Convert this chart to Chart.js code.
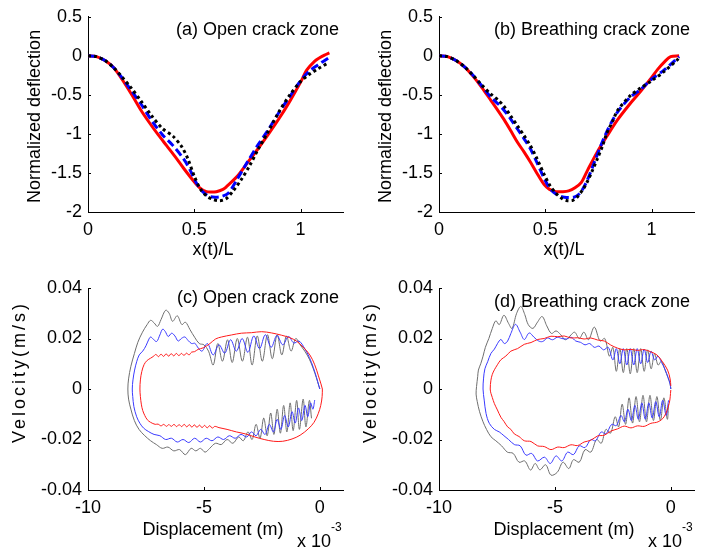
<!DOCTYPE html>
<html>
<head>
<meta charset="utf-8">
<script src="https://cdn.jsdelivr.net/npm/chart.js@4/dist/chart.umd.min.js"></script>
<style>
  html, body { margin: 0; padding: 0; background: #fff; }
  #fig { position: relative; width: 702px; height: 554px; overflow: hidden; background: #fff; }
  #fig canvas { position: absolute; }
</style>
</head>
<body>
<div id="fig">
  <canvas id="pa" width="351" height="270" style="left:0;top:0"></canvas>
  <canvas id="pb" width="351" height="270" style="left:351px;top:0"></canvas>
  <canvas id="pc" width="351" height="284" style="left:0;top:270px"></canvas>
  <canvas id="pd" width="351" height="284" style="left:351px;top:270px"></canvas>
</div>
<script>
// ---------- deflection profiles, x(t)/L vs normalized deflection ----------
const aRedX = [0, 0.04, 0.08, 0.12, 0.16, 0.213, 0.25, 0.29, 0.33, 0.37, 0.41, 0.45, 0.49, 0.526, 0.557, 0.58, 0.604, 0.635, 0.65, 0.70, 0.75, 0.80, 0.85, 0.90, 0.95, 1.00, 1.03, 1.066, 1.09, 1.113, 1.136];
const aRedY = [0, -0.01, -0.06, -0.15, -0.30, -0.53, -0.70, -0.86, -1.01, -1.15, -1.29, -1.44, -1.58, -1.69, -1.74, -1.745, -1.74, -1.71, -1.68, -1.55, -1.37, -1.19, -1.00, -0.80, -0.58, -0.34, -0.18, -0.07, -0.025, 0.01, 0.037];
const aBlueX = [0, 0.04, 0.08, 0.12, 0.16, 0.20, 0.25, 0.30, 0.35, 0.40, 0.45, 0.48, 0.51, 0.54, 0.57, 0.60, 0.63, 0.66, 0.70, 0.75, 0.80, 0.85, 0.90, 0.95, 1.00, 1.04, 1.08, 1.13];
const aBlueY = [0, -0.01, -0.06, -0.15, -0.28, -0.43, -0.62, -0.83, -1.01, -1.15, -1.32, -1.46, -1.63, -1.74, -1.80, -1.81, -1.80, -1.76, -1.59, -1.36, -1.14, -0.94, -0.72, -0.52, -0.32, -0.20, -0.12, -0.03];
const aBlackX = [0, 0.04, 0.08, 0.12, 0.16, 0.20, 0.25, 0.30, 0.35, 0.40, 0.44, 0.47, 0.50, 0.53, 0.56, 0.59, 0.62, 0.65, 0.68, 0.72, 0.76, 0.80, 0.85, 0.90, 0.95, 1.00, 1.04, 1.08, 1.13];
const aBlackY = [0, -0.01, -0.06, -0.15, -0.27, -0.40, -0.58, -0.77, -0.93, -1.03, -1.16, -1.32, -1.54, -1.71, -1.80, -1.84, -1.855, -1.83, -1.74, -1.59, -1.41, -1.20, -0.96, -0.71, -0.50, -0.33, -0.24, -0.17, -0.09];

const bRedX = [0, 0.04, 0.08, 0.12, 0.16, 0.20, 0.244, 0.28, 0.307, 0.34, 0.37, 0.40, 0.43, 0.46, 0.495, 0.52, 0.55, 0.58, 0.61, 0.64, 0.67, 0.70, 0.745, 0.79, 0.84, 0.90, 0.95, 1.00, 1.03, 1.06, 1.09, 1.13];
const bRedY = [0, -0.01, -0.06, -0.14, -0.26, -0.40, -0.57, -0.71, -0.82, -0.97, -1.11, -1.23, -1.36, -1.50, -1.65, -1.71, -1.74, -1.74, -1.73, -1.69, -1.62, -1.46, -1.23, -1.03, -0.82, -0.61, -0.45, -0.28, -0.17, -0.08, -0.01, 0.0];
const bBlueX = [0, 0.04, 0.08, 0.12, 0.16, 0.20, 0.244, 0.28, 0.307, 0.34, 0.37, 0.40, 0.43, 0.46, 0.495, 0.52, 0.55, 0.59, 0.635, 0.66, 0.68, 0.70, 0.73, 0.76, 0.78, 0.81, 0.84, 0.90, 0.95, 1.00, 1.06, 1.13];
const bBlueY = [0, -0.01, -0.06, -0.14, -0.25, -0.38, -0.53, -0.62, -0.70, -0.82, -0.94, -1.06, -1.19, -1.36, -1.57, -1.69, -1.77, -1.81, -1.81, -1.77, -1.69, -1.58, -1.37, -1.16, -1.03, -0.86, -0.72, -0.53, -0.43, -0.30, -0.18, -0.01];
const bBlackX = [0, 0.04, 0.08, 0.12, 0.16, 0.20, 0.244, 0.28, 0.307, 0.34, 0.37, 0.40, 0.43, 0.46, 0.495, 0.52, 0.55, 0.58, 0.604, 0.63, 0.65, 0.68, 0.70, 0.72, 0.745, 0.77, 0.79, 0.82, 0.84, 0.90, 0.95, 1.00, 1.06, 1.13];
const bBlackY = [0, -0.01, -0.06, -0.14, -0.25, -0.37, -0.49, -0.57, -0.65, -0.78, -0.90, -1.02, -1.15, -1.31, -1.52, -1.65, -1.76, -1.83, -1.855, -1.85, -1.81, -1.70, -1.60, -1.48, -1.32, -1.15, -0.99, -0.82, -0.70, -0.51, -0.41, -0.32, -0.20, -0.03];

// ---------- phase trajectories, displacement (x 1e-3 m) vs velocity (m/s) ----------
const cRedX = [0.11, 0.10, 0.04, -0.07, -0.25, -0.50, -0.85, -1.20, -1.60, -2.00, -2.40, -2.80, -3.20, -3.60, -4.00, -4.35, -4.53, -4.64, -4.75, -4.86, -4.97, -5.08, -5.19, -5.30, -5.41, -5.52, -5.63, -5.74, -5.85, -5.96, -6.07, -6.18, -6.29, -6.40, -6.51, -6.62, -6.73, -6.85, -6.98, -7.10, -7.30, -7.44, -7.55, -7.64, -7.70, -7.74, -7.76, -7.74, -7.68, -7.58, -7.45, -7.30, -7.18, -7.07, -6.96, -6.85, -6.74, -6.63, -6.52, -6.41, -6.30, -6.19, -6.08, -5.97, -5.86, -5.75, -5.64, -5.53, -5.40, -5.25, -5.03, -4.74, -4.50, -4.24, -3.81, -3.38, -2.95, -2.51, -2.08, -1.65, -1.29, -1.01, -0.72, -0.43, -0.22, -0.06, 0.05, 0.11];
const cRedY = [0.0, -0.0030, -0.0065, -0.0098, -0.0132, -0.0158, -0.0183, -0.0198, -0.0207, -0.0207, -0.0200, -0.0190, -0.0178, -0.0170, -0.0160, -0.0153, -0.0148, -0.0155, -0.0145, -0.0154, -0.0144, -0.0153, -0.0143, -0.0152, -0.0142, -0.0151, -0.0141, -0.0150, -0.0140, -0.0149, -0.0141, -0.0149, -0.0140, -0.0148, -0.0141, -0.0148, -0.0140, -0.0146, -0.0139, -0.0140, -0.0132, -0.0122, -0.0105, -0.0085, -0.0060, -0.0030, 0.0, 0.0036, 0.0069, 0.0097, 0.0113, 0.0122, 0.0129, 0.0137, 0.0128, 0.0138, 0.0129, 0.0139, 0.0130, 0.0140, 0.0131, 0.0141, 0.0132, 0.0141, 0.0133, 0.0142, 0.0135, 0.0146, 0.0148, 0.0157, 0.0163, 0.0180, 0.0198, 0.0206, 0.0214, 0.0221, 0.0223, 0.0227, 0.0222, 0.0213, 0.0203, 0.0190, 0.0166, 0.0135, 0.0096, 0.0052, 0.0020, 0.0];
const cBlueX = [-0.22, -0.30, -0.40, -0.52, -0.64, -0.78, -0.92, -1.06, -1.20, -1.36, -1.52, -1.68, -1.84, -2.00, -2.18, -2.36, -2.55, -2.75, -2.95, -3.15, -3.40, -3.65, -3.90, -4.15, -4.40, -4.65, -4.90, -5.15, -5.40, -5.65, -5.90, -6.15, -6.40, -6.65, -6.90, -7.15, -7.40, -7.60, -7.76, -7.90, -8.02, -8.07, -8.09, -8.06, -7.99, -7.90, -7.79, -7.64, -7.50, -7.39, -7.30, -7.18, -7.04, -6.90, -6.78, -6.67, -6.54, -6.39, -6.25, -6.11, -5.96, -5.82, -5.68, -5.53, -5.39, -5.24, -5.08, -4.85, -4.60, -4.35, -4.10, -3.85, -3.60, -3.35, -3.10, -2.85, -2.60, -2.35, -2.10, -1.85, -1.60, -1.35, -1.12, -0.90, -0.65, -0.45, -0.28, -0.14, -0.04, 0.0];
const cBlueY = [-0.0044, -0.0080, -0.0055, -0.0110, -0.0065, -0.0125, -0.0075, -0.0135, -0.0090, -0.0150, -0.0105, -0.0160, -0.0120, -0.0170, -0.0140, -0.0180, -0.0160, -0.0185, -0.0170, -0.0190, -0.0180, -0.0195, -0.0185, -0.0200, -0.0190, -0.0205, -0.0195, -0.0210, -0.0195, -0.0212, -0.0200, -0.0210, -0.0195, -0.0200, -0.0185, -0.0180, -0.0168, -0.0155, -0.0136, -0.0110, -0.0070, -0.0030, 0.0, 0.0036, 0.0075, 0.0108, 0.0135, 0.0150, 0.0171, 0.0194, 0.0206, 0.0197, 0.0188, 0.0214, 0.0237, 0.0228, 0.0208, 0.0221, 0.0210, 0.0190, 0.0201, 0.0206, 0.0192, 0.0180, 0.0181, 0.0162, 0.0150, 0.0180, 0.0135, 0.0175, 0.0142, 0.0195, 0.0150, 0.0200, 0.0145, 0.0210, 0.0160, 0.0215, 0.0165, 0.0212, 0.0175, 0.0208, 0.0182, 0.0190, 0.0160, 0.0125, 0.0085, 0.0045, 0.0012, 0.0];
const cGrayX = [-0.36, -0.45, -0.60, -0.72, -0.88, -1.00, -1.15, -1.28, -1.42, -1.56, -1.70, -1.84, -1.98, -2.12, -2.27, -2.42, -2.58, -2.75, -2.92, -3.10, -3.30, -3.50, -3.75, -4.00, -4.25, -4.50, -4.75, -4.95, -5.15, -5.35, -5.55, -5.80, -6.05, -6.30, -6.55, -6.80, -7.05, -7.30, -7.55, -7.80, -8.00, -8.15, -8.25, -8.28, -8.25, -8.15, -8.00, -7.85, -7.65, -7.45, -7.30, -7.15, -7.00, -6.85, -6.65, -6.50, -6.35, -6.15, -5.95, -5.80, -5.60, -5.40, -5.20, -5.00, -4.80, -4.60, -4.40, -4.20, -3.98, -3.78, -3.56, -3.34, -3.12, -2.92, -2.70, -2.48, -2.26, -2.05, -1.84, -1.64, -1.44, -1.24, -1.04, -0.85, -0.65, -0.45, -0.28, -0.15, -0.05, 0.0];
const cGrayY = [-0.0116, -0.0045, -0.0150, -0.0040, -0.0160, -0.0045, -0.0165, -0.0055, -0.0170, -0.0065, -0.0175, -0.0080, -0.0180, -0.0095, -0.0185, -0.0115, -0.0195, -0.0140, -0.0200, -0.0170, -0.0205, -0.0190, -0.0215, -0.0200, -0.0220, -0.0215, -0.0235, -0.0250, -0.0235, -0.0245, -0.0235, -0.0260, -0.0240, -0.0245, -0.0230, -0.0235, -0.0220, -0.0205, -0.0185, -0.0160, -0.0125, -0.0080, -0.0040, 0.0, 0.0040, 0.0090, 0.0140, 0.0185, 0.0225, 0.0255, 0.0272, 0.0262, 0.0248, 0.0275, 0.0312, 0.0300, 0.0268, 0.0290, 0.0255, 0.0265, 0.0235, 0.0205, 0.0180, 0.0175, 0.0150, 0.0095, 0.0180, 0.0110, 0.0195, 0.0105, 0.0200, 0.0110, 0.0205, 0.0095, 0.0210, 0.0110, 0.0215, 0.0120, 0.0215, 0.0135, 0.0210, 0.0150, 0.0200, 0.0175, 0.0150, 0.0118, 0.0080, 0.0045, 0.0015, 0.0];

const dRedX = [0.0, -0.07, -0.29, -0.55, -0.86, -1.15, -1.44, -1.72, -2.01, -2.30, -2.59, -2.87, -3.16, -3.45, -3.74, -4.02, -4.31, -4.60, -4.88, -5.17, -5.46, -5.75, -6.03, -6.32, -6.55, -6.75, -6.90, -7.04, -7.20, -7.33, -7.48, -7.61, -7.70, -7.76, -7.79, -7.76, -7.70, -7.61, -7.48, -7.33, -7.12, -6.90, -6.61, -6.32, -6.03, -5.75, -5.46, -5.17, -4.88, -4.60, -4.31, -4.02, -3.74, -3.45, -3.16, -2.87, -2.59, -2.30, -2.01, -1.72, -1.44, -1.15, -0.86, -0.60, -0.36, -0.14, -0.03, 0.0];
const dRedY = [-0.0004, -0.0057, -0.0110, -0.0130, -0.0136, -0.0148, -0.0146, -0.0154, -0.0147, -0.0158, -0.0167, -0.0183, -0.0186, -0.0203, -0.0210, -0.0224, -0.0221, -0.0232, -0.0230, -0.0240, -0.0228, -0.0225, -0.0208, -0.0205, -0.0188, -0.0178, -0.0160, -0.0150, -0.0128, -0.0112, -0.0083, -0.0058, -0.0034, -0.0017, 0.0, 0.0035, 0.0058, 0.0076, 0.0096, 0.0116, 0.0130, 0.0150, 0.0160, 0.0177, 0.0184, 0.0196, 0.0200, 0.0209, 0.0207, 0.0210, 0.0202, 0.0203, 0.0198, 0.0202, 0.0194, 0.0190, 0.0174, 0.0162, 0.0155, 0.0157, 0.0153, 0.0156, 0.0147, 0.0135, 0.0108, 0.0075, 0.0040, 0.0012];
const dBlueX = [-0.10, -0.20, -0.35, -0.50, -0.65, -0.80, -0.95, -1.10, -1.25, -1.40, -1.55, -1.70, -1.85, -2.00, -2.15, -2.35, -2.55, -2.80, -3.00, -3.25, -3.45, -3.70, -3.95, -4.20, -4.45, -4.70, -4.95, -5.20, -5.45, -5.75, -6.00, -6.25, -6.50, -6.75, -7.00, -7.20, -7.40, -7.61, -7.83, -7.97, -8.05, -8.10, -8.08, -8.02, -7.90, -7.76, -7.61, -7.47, -7.33, -7.18, -7.04, -6.90, -6.70, -6.50, -6.32, -6.11, -5.90, -5.70, -5.53, -5.32, -5.10, -4.90, -4.70, -4.50, -4.30, -4.10, -3.90, -3.70, -3.50, -3.30, -3.10, -2.90, -2.70, -2.50, -2.35, -2.20, -2.05, -1.90, -1.75, -1.60, -1.45, -1.30, -1.15, -1.00, -0.85, -0.70, -0.55, -0.40, -0.25, -0.12, -0.03, 0.0];
const dBlueY = [-0.0045, -0.0105, -0.0045, -0.0110, -0.0050, -0.0115, -0.0055, -0.0120, -0.0055, -0.0120, -0.0065, -0.0125, -0.0080, -0.0130, -0.0105, -0.0145, -0.0140, -0.0178, -0.0170, -0.0205, -0.0200, -0.0232, -0.0225, -0.0260, -0.0250, -0.0285, -0.0265, -0.0295, -0.0270, -0.0285, -0.0255, -0.0262, -0.0225, -0.0220, -0.0200, -0.0185, -0.0170, -0.0160, -0.0136, -0.0097, -0.0044, 0.0, 0.0040, 0.0080, 0.0108, 0.0141, 0.0158, 0.0181, 0.0196, 0.0180, 0.0190, 0.0220, 0.0256, 0.0225, 0.0196, 0.0222, 0.0205, 0.0190, 0.0188, 0.0202, 0.0195, 0.0205, 0.0200, 0.0198, 0.0205, 0.0190, 0.0185, 0.0175, 0.0180, 0.0165, 0.0170, 0.0155, 0.0165, 0.0115, 0.0160, 0.0100, 0.0160, 0.0095, 0.0160, 0.0095, 0.0160, 0.0100, 0.0158, 0.0105, 0.0150, 0.0115, 0.0130, 0.0105, 0.0078, 0.0045, 0.0020, 0.0];
const dGrayX = [-0.10, -0.15, -0.30, -0.45, -0.60, -0.75, -0.90, -1.05, -1.20, -1.35, -1.50, -1.65, -1.80, -1.95, -2.10, -2.25, -2.40, -2.60, -2.80, -3.00, -3.20, -3.45, -3.70, -3.95, -4.20, -4.40, -4.65, -4.90, -5.17, -5.40, -5.65, -5.85, -6.05, -6.30, -6.55, -6.80, -7.05, -7.30, -7.55, -7.76, -7.95, -8.10, -8.25, -8.35, -8.40, -8.38, -8.33, -8.30, -8.20, -8.10, -8.00, -7.85, -7.70, -7.55, -7.40, -7.20, -7.00, -6.85, -6.65, -6.47, -6.30, -6.15, -5.95, -5.75, -5.55, -5.35, -5.15, -4.95, -4.75, -4.55, -4.35, -4.15, -3.95, -3.75, -3.55, -3.30, -3.05, -2.85, -2.65, -2.50, -2.35, -2.20, -2.05, -1.90, -1.75, -1.60, -1.45, -1.30, -1.15, -1.00, -0.85, -0.70, -0.55, -0.40, -0.25, -0.12, -0.03, 0.0];
const dGrayY = [-0.0060, -0.0120, -0.0035, -0.0125, -0.0030, -0.0125, -0.0025, -0.0130, -0.0025, -0.0130, -0.0030, -0.0135, -0.0035, -0.0140, -0.0060, -0.0150, -0.0110, -0.0175, -0.0160, -0.0215, -0.0200, -0.0250, -0.0240, -0.0290, -0.0280, -0.0315, -0.0290, -0.0330, -0.0341, -0.0300, -0.0320, -0.0295, -0.0321, -0.0285, -0.0290, -0.0255, -0.0250, -0.0225, -0.0205, -0.0189, -0.0160, -0.0130, -0.0090, -0.0050, -0.0020, 0.0010, 0.0050, 0.0075, 0.0100, 0.0130, 0.0165, 0.0200, 0.0240, 0.0270, 0.0255, 0.0292, 0.0260, 0.0240, 0.0300, 0.0327, 0.0295, 0.0255, 0.0240, 0.0265, 0.0287, 0.0250, 0.0220, 0.0230, 0.0215, 0.0195, 0.0210, 0.0225, 0.0200, 0.0225, 0.0195, 0.0245, 0.0190, 0.0200, 0.0130, 0.0165, 0.0070, 0.0160, 0.0065, 0.0160, 0.0060, 0.0160, 0.0065, 0.0160, 0.0070, 0.0155, 0.0080, 0.0140, 0.0095, 0.0110, 0.0075, 0.0045, 0.0020, 0.0];

// axis ticks
const profileXTicks = [0, 0.5, 1];
const profileYTicks = [-2, -1.5, -1, -0.5, 0, 0.5];
const phaseXTicks = [-10, -5, 0];
const phaseYTicks = [-0.04, -0.02, 0, 0.02, 0.04];

const FONT = "'Liberation Sans', Arial, Helvetica, sans-serif";
Chart.defaults.font.family = FONT;
Chart.defaults.font.size = 18;
Chart.defaults.color = '#000';

const pts = (xs, ys) => xs.map((x, i) => ({ x, y: ys[i] }));

// inward tick marks, panel caption and axis labels
const panelText = {
  id: 'panelText',
  afterDraw(chart, _a, o) {
    const { ctx, chartArea: ca, scales } = chart;
    const sx = scales.x, sy = scales.y;
    ctx.save();
    ctx.strokeStyle = '#000';
    ctx.lineWidth = 1;
    ctx.beginPath();
    sx.ticks.forEach(t => {
      const p = Math.round(sx.getPixelForValue(t.value)) + 0.5;
      ctx.moveTo(p, ca.bottom);
      ctx.lineTo(p, ca.bottom - 3);
    });
    sy.ticks.forEach(t => {
      const p = Math.round(sy.getPixelForValue(t.value)) + 0.5;
      ctx.moveTo(ca.left, p);
      ctx.lineTo(ca.left + 3, p);
    });
    ctx.stroke();

    ctx.fillStyle = '#000';
    ctx.font = '18px ' + FONT;
    ctx.textBaseline = 'middle';
    ctx.textAlign = 'right';
    ctx.fillText(o.caption, ca.right - 4, ca.top + o.captionDy);

    ctx.textAlign = 'center';
    ctx.fillText(o.xLabel, (ca.left + ca.right) / 2 - 2.5, ca.bottom + o.xLabelDy);

    ctx.save();
    ctx.translate(o.yLabelX, (ca.top + ca.bottom) / 2 + o.yLabelDy);
    ctx.rotate(-Math.PI / 2);
    if (o.yLabelSpacing) ctx.letterSpacing = o.yLabelSpacing + 'px';
    ctx.fillText(o.yLabel, 0, 0);
    ctx.restore();

    if (o.exponent) {
      ctx.textAlign = 'left';
      ctx.fillText('x 10', ca.right - 46, ca.bottom + 52);
      ctx.font = '12px ' + FONT;
      ctx.fillText('-3', ca.right - 12, ca.bottom + 38);
    }
    ctx.restore();
  }
};

function axis(min, max, ticks, pad, fitKey, fitVal) {
  return {
    type: 'linear',
    min, max,
    afterBuildTicks: s => { s.ticks = ticks.map(v => ({ value: v })); },
    afterFit: s => { s[fitKey] = fitVal; },
    grid: { display: false, drawTicks: false, drawOnChartArea: false },
    border: { display: true, color: '#000', width: 1 },
    ticks: {
      padding: pad,
      color: '#000',
      autoSkip: false,
      maxRotation: 0,
      font: { family: FONT, size: 18 },
      callback: v => String(v)
    }
  };
}

function line(data, color, width, dash, tension) {
  return {
    data, showLine: true, borderColor: color, backgroundColor: color,
    borderWidth: width, borderDash: dash, pointRadius: 0, pointHoverRadius: 0,
    fill: false, tension
  };
}

function makeChart(id, datasets, xs, ys, padTop, xH, text) {
  return new Chart(document.getElementById(id), {
    type: 'scatter',
    data: { datasets },
    options: {
      responsive: false,
      animation: false,
      devicePixelRatio: 1,
      layout: { padding: { top: padTop, right: 8, left: 0, bottom: 0 } },
      scales: {
        x: axis(xs[0], xs[1], xs[2], 7, 'height', xH),
        y: axis(ys[0], ys[1], ys[2], 6, 'width', 88)
      },
      plugins: { legend: { display: false }, tooltip: { enabled: false }, panelText: text }
    },
    plugins: [panelText]
  });
}

const profileX = [0, 1.2, profileXTicks];
const profileY = [-2, 0.5, profileYTicks];
const phaseX = [-10, 1, phaseXTicks];
const phaseY = [-0.04, 0.04, phaseYTicks];

makeChart('pa', [
  line(pts(aBlackX, aBlackY), '#000000', 3, [3, 3], 0.3),
  line(pts(aBlueX, aBlueY), '#0000ff', 3, [8, 4], 0.3),
  line(pts(aRedX, aRedY), '#ff0000', 3, [], 0.3)
], profileX, profileY, 12, 58, {
  caption: '(a) Open crack zone', captionDy: 13,
  xLabel: 'x(t)/L', xLabelDy: 38,
  yLabel: 'Normalized deflection', yLabelX: 35, yLabelDy: 2
});

makeChart('pb', [
  line(pts(bBlackX, bBlackY), '#000000', 3, [3, 3], 0.3),
  line(pts(bBlueX, bBlueY), '#0000ff', 3, [8, 4], 0.3),
  line(pts(bRedX, bRedY), '#ff0000', 3, [], 0.3)
], profileX, profileY, 12, 58, {
  caption: '(b) Breathing crack zone', captionDy: 13,
  xLabel: 'x(t)/L', xLabelDy: 38,
  yLabel: 'Normalized deflection', yLabelX: 35, yLabelDy: 2
});

makeChart('pc', [
  line(pts(cRedX, cRedY), '#ff1a1a', 1, [], 0.35),
  line(pts(cBlueX, cBlueY), '#3a3aff', 1, [], 0.35),
  line(pts(cGrayX, cGrayY), '#6e6e6e', 1, [], 0.35)
], phaseX, phaseY, 18, 64, {
  caption: '(c) Open crack zone', captionDy: 10,
  xLabel: 'Displacement (m)', xLabelDy: 40,
  yLabel: 'Velocity(m/s)', yLabelX: 20, yLabelDy: -17, yLabelSpacing: 3,
  exponent: true
});

makeChart('pd', [
  line(pts(dRedX, dRedY), '#ff1a1a', 1, [], 0.35),
  line(pts(dBlueX, dBlueY), '#3a3aff', 1, [], 0.35),
  line(pts(dGrayX, dGrayY), '#6e6e6e', 1, [], 0.35)
], phaseX, phaseY, 18, 64, {
  caption: '(d) Breathing crack zone', captionDy: 14,
  xLabel: 'Displacement (m)', xLabelDy: 40,
  yLabel: 'Velocity(m/s)', yLabelX: 20, yLabelDy: -17, yLabelSpacing: 3,
  exponent: true
});
</script>
</body>
</html>
